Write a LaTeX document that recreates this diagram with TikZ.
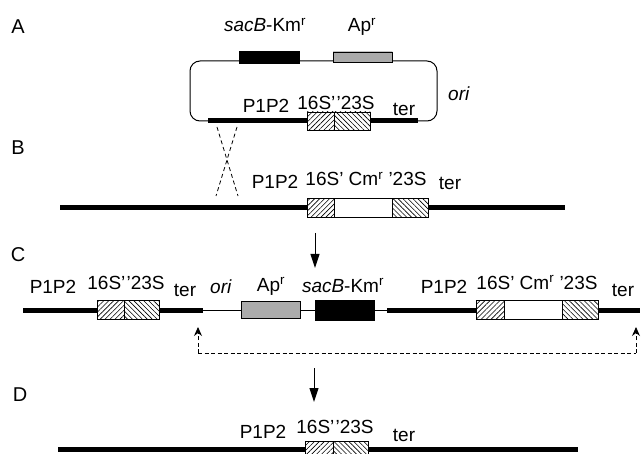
\documentclass[tikz,border=0pt]{standalone}
\usepackage{fontspec}
\setmainfont{Liberation Sans}
\usetikzlibrary{arrows.meta,patterns.meta,backgrounds}
\newcommand{\pp}{’\kern1.2pt’}
\begin{document}
\begin{tikzpicture}[x=1pt,y=-1pt,
  lbl/.style={anchor=base, inner sep=0, font=\fontsize{19}{19}\selectfont},
  panel/.style={anchor=center, inner sep=0, font=\fontsize{20}{20}\selectfont},
  gbox/.style={draw, line width=0.8pt, inner sep=0, outer sep=0, rectangle},
  hne/.style={gbox, preaction={fill=white}, pattern={Lines[angle=45,distance=3.5pt,line width=0.6pt]}},
  hnw/.style={gbox, preaction={fill=white}, pattern={Lines[angle=-45,distance=3.5pt,line width=0.6pt]}},
  dotb/.style={gbox, preaction={fill=gray!25}, pattern={Dots[distance=2pt,radius=0.65pt]}},
  blk/.style={gbox, fill=black},
  wht/.style={gbox, fill=white},
  dna/.style={line width=5pt},
  thinl/.style={line width=1pt},
  xdash/.style={line width=0.8pt, dash pattern=on 4pt off 3pt},
  bdash/.style={line width=0.9pt, dash pattern=on 4pt off 2.5pt},
  bigarrow/.style={line width=1pt, -{Triangle[length=14pt,width=9pt]}},
  smallarrow/.style={bdash, -{Stealth[length=9pt,width=8pt,inset=3pt]}}
]
\useasboundingbox (0,0) rectangle (642,454);

% ---------------- Panel A ----------------
\node[panel] (lA) at (18,27) {A};
\coordinate (aL) at (208,121);
\coordinate (aR) at (418,121);
\draw[thinl, rounded corners=10pt] (aL) -- (190,121) -- (190,61) -- (437,61) -- (437,121) -- (aR);
\draw[dna] (aL) -- (aR);
\node[blk, minimum width=60pt, minimum height=12pt] (aSac) at (269,57) {};
\node[dotb, minimum width=59pt, minimum height=10pt] (aAp) at (362.5,57) {};
\node[hne, minimum width=27pt, minimum height=18pt] (a16) at (320.5,121) {};
\node[hnw, minimum width=36pt, minimum height=18pt] (a23) at (352,121) {};
\node[lbl] (tAsac) at (265,32) {\textit{sacB}-Km\textsuperscript{r}};
\node[lbl] (tAap) at (362,32) {Ap\textsuperscript{r}};
\node[lbl] (tAp) at (266,113) {P1P2};
\node[lbl] (tA16) at (336,110) {16S\pp 23S};
\node[lbl] (tAter) at (404,116) {ter};
\node[lbl] (tAori) at (459,101) {\textit{ori}};

% crossover
\coordinate (x1) at (217,127);
\coordinate (x2) at (238,196);
\coordinate (x3) at (237,127);
\coordinate (x4) at (216,196);
\draw[xdash] (x1) -- (x2);
\draw[xdash] (x3) -- (x4);

% ---------------- Panel B ----------------
\node[panel] (lB) at (18,148) {B};
\coordinate (bL) at (60,208);
\coordinate (bR) at (565,208);
\draw[dna] (bL) -- (bR);
\node[hne, minimum width=27pt, minimum height=19pt] (b16) at (320.5,208) {};
\node[wht, minimum width=58pt, minimum height=19pt] (bCm) at (363,208) {};
\node[hnw, minimum width=36pt, minimum height=19pt] (b23) at (410,208) {};
\node[lbl] (tBp) at (275,189) {P1P2};
\node[lbl] (tB16) at (366,186) {16S’ Cm\textsuperscript{r} ’23S};
\node[lbl] (tBter) at (450,190) {ter};

\coordinate (ab1) at (315,233);
\coordinate (ab2) at (315,268);
\draw[bigarrow] (ab1) -- (ab2);

% ---------------- Panel C ----------------
\node[panel] (lC) at (18,255) {C};
\coordinate (c1) at (23,310);
\coordinate (c2) at (203,310);
\coordinate (c3) at (387,310);
\coordinate (c4) at (640,310);
\draw[dna] (c1) -- (c2);
\draw[thinl] (c2) -- (c3);
\draw[dna] (c3) -- (c4);
\node[hne, minimum width=27pt, minimum height=19pt] (c16) at (110.5,310) {};
\node[hnw, minimum width=35pt, minimum height=19pt] (c23) at (141.5,310) {};
\node[dotb, minimum width=59pt, minimum height=17pt] (cAp) at (270.5,310) {};
\node[blk, minimum width=59pt, minimum height=20pt] (cSac) at (344.5,310) {};
\node[hne, minimum width=28pt, minimum height=19pt] (c16b) at (490,310) {};
\node[wht, minimum width=58pt, minimum height=19pt] (cCm) at (533,310) {};
\node[hnw, minimum width=36pt, minimum height=19pt] (c23b) at (580,310) {};
\node[lbl] (tCp) at (53,293) {P1P2};
\node[lbl] (tC16) at (126,289) {16S\pp 23S};
\node[lbl] (tCter) at (185,296) {ter};
\node[lbl] (tCori) at (221,293) {\textit{ori}};
\node[lbl] (tCap) at (271,291) {Ap\textsuperscript{r}};
\node[lbl] (tCsac) at (343,292) {\textit{sacB}-Km\textsuperscript{r}};
\node[lbl] (tCp2) at (444,293) {P1P2};
\node[lbl] (tC16b) at (537,289) {16S’ Cm\textsuperscript{r} ’23S};
\node[lbl] (tCter2) at (623,296) {ter};

% dashed bracket
\coordinate (dl) at (198,353);
\coordinate (dr) at (636,353);
\coordinate (dlt) at (198,327);
\coordinate (drt) at (636,327);
\draw[bdash] (dl) -- (dr);
\draw[smallarrow] (dl) -- (dlt);
\draw[smallarrow] (dr) -- (drt);

\coordinate (ac1) at (314,368);
\coordinate (ac2) at (314,402);
\draw[bigarrow] (ac1) -- (ac2);

% ---------------- Panel D ----------------
\node[panel] (lD) at (20,395) {D};
\coordinate (d1) at (58,449);
\coordinate (d2) at (578,449);
\draw[dna] (d1) -- (d2);
\node[hne, minimum width=28pt, minimum height=18pt] (d16) at (319,450) {};
\node[hnw, minimum width=35pt, minimum height=18pt] (d23) at (350.5,450) {};
\node[lbl] (tDp) at (263,438) {P1P2};
\node[lbl] (tD16) at (335,433) {16S\pp 23S};
\node[lbl] (tDter) at (404,441) {ter};
\end{tikzpicture}
\end{document}
